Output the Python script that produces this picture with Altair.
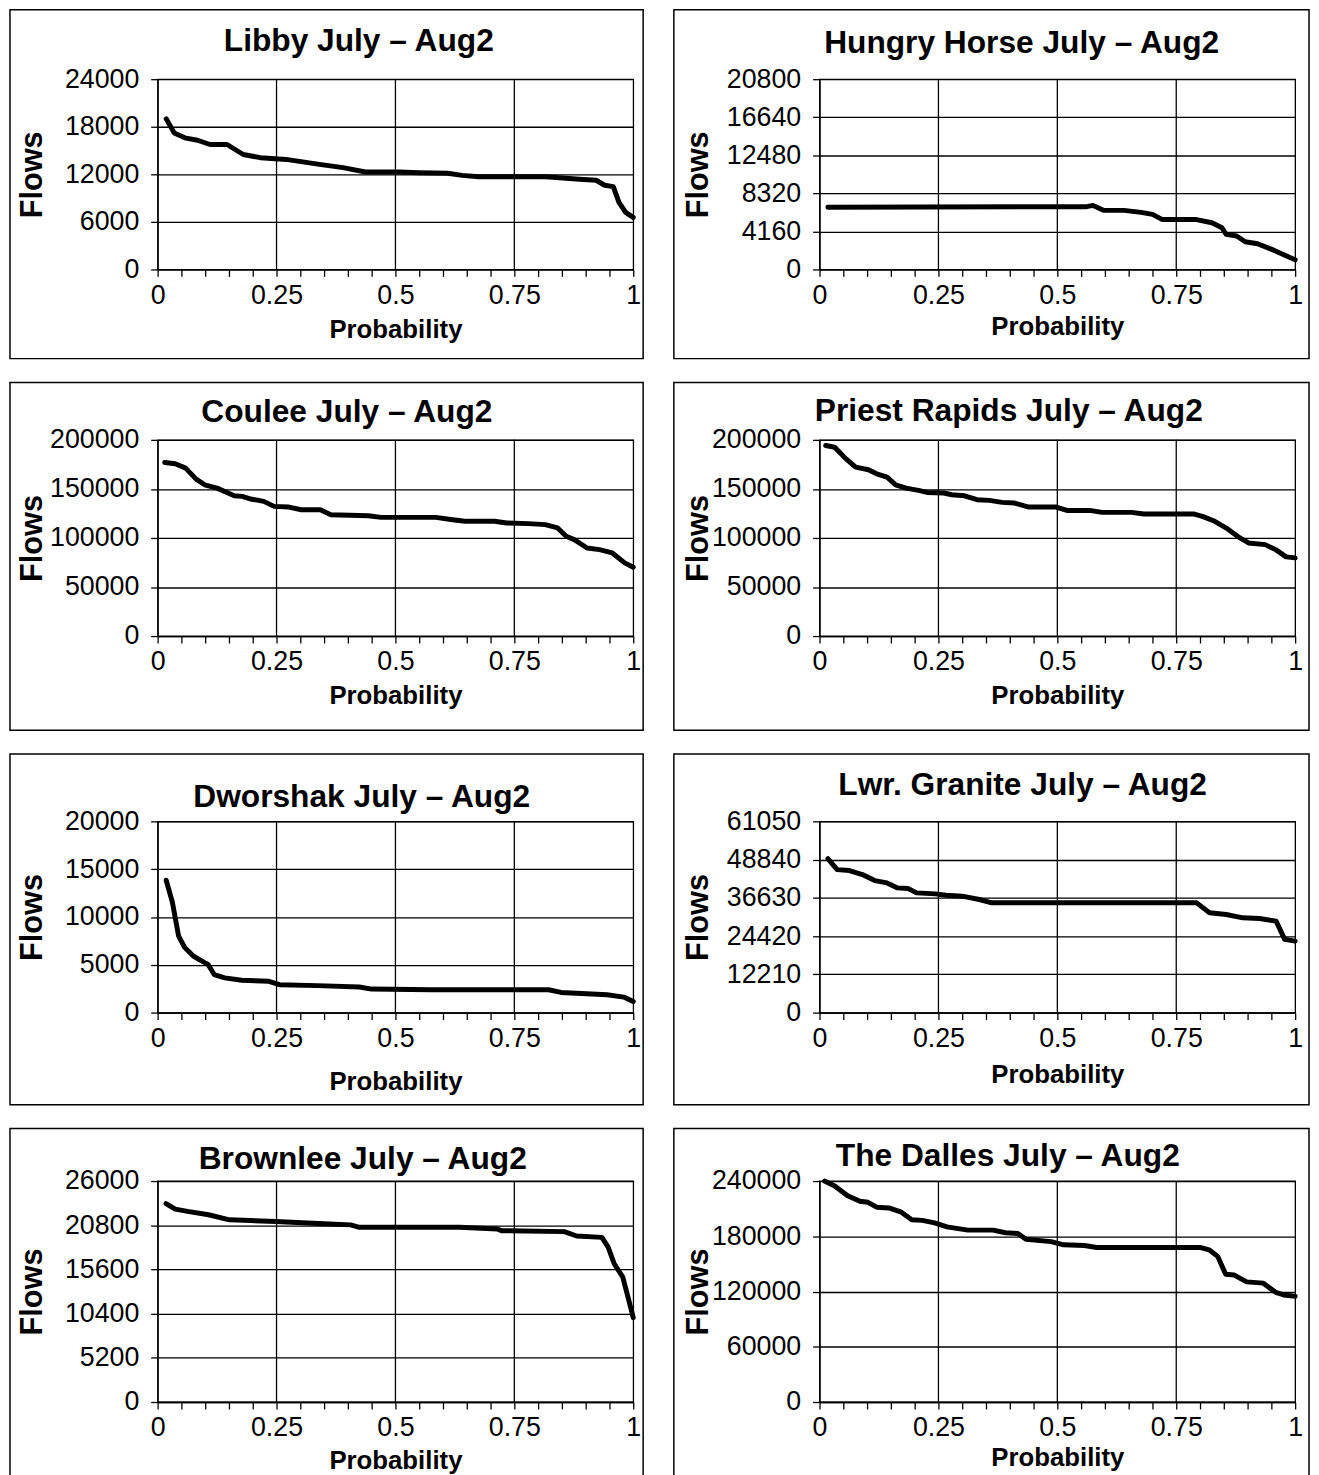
import altair as alt
import pandas as pd

# ---------------- data ----------------
titles = ["Libby July – Aug2", "Hungry Horse July – Aug2",
          "Coulee July – Aug2", "Priest Rapids July – Aug2",
          "Dworshak July – Aug2", "Lwr. Granite July – Aug2",
          "Brownlee July – Aug2", "The Dalles July – Aug2"]

libby_p = [0.018, 0.035, 0.057, 0.084, 0.11, 0.146, 0.18, 0.216, 0.27, 0.34, 0.39, 0.437,
           0.507, 0.55, 0.61, 0.64, 0.675, 0.816, 0.887, 0.922, 0.94, 0.958, 0.97, 0.984, 1.0]
libby_f = [19000, 17200, 16600, 16300, 15760, 15760, 14500, 14100, 13880, 13250, 12840, 12290,
           12290, 12200, 12125, 11870, 11700, 11700, 11370, 11250, 10620, 10450, 8450, 7190, 6560]
libby_y = [0, 6000, 12000, 18000, 24000]

hh_p = [0.0175, 0.562, 0.575, 0.597, 0.64, 0.676, 0.70, 0.72, 0.79, 0.825, 0.846, 0.855,
        0.877, 0.895, 0.921, 0.956, 0.982, 1.0]
hh_f = [6800, 6860, 7000, 6460, 6460, 6240, 6020, 5470, 5470, 5110, 4560, 3830,
        3650, 3030, 2810, 2080, 1460, 1050]
hh_y = [0, 4160, 8320, 12480, 16640, 20800]

coulee_p = [0.015, 0.037, 0.059, 0.081, 0.099, 0.125, 0.148, 0.161, 0.178, 0.196, 0.223, 0.245,
            0.276, 0.302, 0.342, 0.364, 0.443, 0.47, 0.585, 0.62, 0.646, 0.708, 0.734, 0.78,
            0.815, 0.841, 0.859, 0.876, 0.903, 0.929, 0.956, 0.982, 1.0]
coulee_f = [177000, 175600, 171200, 160000, 154200, 150800, 145800, 143050, 142400, 139700,
            137300, 132200, 131500, 128800, 128800, 123700, 122700, 121000, 121000, 118600,
            117000, 117000, 115250, 114600, 113600, 110200, 101700, 98300, 89800, 88100,
            84700, 74600, 70200]
coulee_y = [0, 50000, 100000, 150000, 200000]

priest_p = [0.013, 0.032, 0.054, 0.076, 0.103, 0.12, 0.142, 0.16, 0.182, 0.208, 0.226, 0.261,
            0.278, 0.305, 0.331, 0.357, 0.384, 0.41, 0.44, 0.498, 0.52, 0.568, 0.594, 0.656,
            0.682, 0.788, 0.805, 0.831, 0.858, 0.884, 0.902, 0.937, 0.959, 0.981, 1.0]
priest_f = [194200, 192500, 181400, 172200, 169500, 165400, 162000, 154200, 150800, 148500,
            146400, 145800, 144100, 143000, 139000, 138300, 136300, 135600, 131500, 131500,
            128100, 128100, 126100, 126100, 124400, 124400, 122000, 117000, 109200, 100000,
            94900, 93200, 88100, 80700, 79700]
priest_y = [0, 50000, 100000, 150000, 200000]

dwor_p = [0.018, 0.031, 0.044, 0.057, 0.075, 0.097, 0.106, 0.119, 0.141, 0.177, 0.234, 0.256,
          0.336, 0.424, 0.45, 0.574, 0.822, 0.848, 0.945, 0.98, 1.0]
dwor_f = [13840, 11550, 8030, 6800, 5920, 5280, 5035, 3980, 3630, 3380, 3270, 2920,
          2820, 2680, 2460, 2390, 2390, 2110, 1870, 1620, 1160]
dwor_y = [0, 5000, 10000, 15000, 20000]

lg_p = [0.0176, 0.037, 0.063, 0.09, 0.116, 0.142, 0.164, 0.186, 0.204, 0.244, 0.266, 0.3,
        0.336, 0.362, 0.793, 0.82, 0.855, 0.89, 0.925, 0.96, 0.978, 1.0]
lg_f = [49160, 45650, 45340, 44060, 42150, 41400, 39810, 39600, 38220, 37900, 37480, 37160,
        36100, 35040, 35040, 31850, 31320, 30260, 30050, 29200, 23360, 22830]
lg_y = [0, 12210, 24420, 36630, 48840, 61050]

brown_p = [0.0176, 0.037, 0.063, 0.107, 0.151, 0.195, 0.248, 0.327, 0.406, 0.424, 0.547,
           0.635, 0.714, 0.723, 0.855, 0.881, 0.934, 0.947, 0.96, 0.978, 0.991, 1.0]
brown_f = [23340, 22700, 22430, 22030, 21440, 21350, 21240, 21040, 20840, 20560, 20560,
           20560, 20360, 20160, 20050, 19530, 19370, 18260, 16270, 14690, 11910, 9920]
brown_y = [0, 5200, 10400, 15600, 20800, 26000]

dalles_p = [0.0105, 0.032, 0.059, 0.085, 0.102, 0.12, 0.146, 0.172, 0.194, 0.216, 0.242,
            0.268, 0.312, 0.365, 0.391, 0.417, 0.434, 0.487, 0.513, 0.557, 0.583, 0.802,
            0.819, 0.837, 0.854, 0.872, 0.898, 0.933, 0.959, 0.976, 1.0]
dalles_f = [240000, 234700, 224000, 218000, 216900, 211600, 210800, 206200, 198000, 197300,
            194500, 190200, 186700, 186700, 183800, 183100, 176700, 174200, 170700, 170000,
            167800, 167800, 165300, 158200, 138700, 137900, 130500, 129100, 119100, 116300,
            114800]
dalles_y = [0, 60000, 120000, 180000, 240000]

x_ticks = [0, 0.05, 0.1, 0.15, 0.2, 0.25, 0.3, 0.35, 0.4, 0.45, 0.5,
           0.55, 0.6, 0.65, 0.7, 0.75, 0.8, 0.85, 0.9, 0.95, 1]
x_labels = [0, 0.25, 0.5, 0.75, 1]
x_grid = [0.25, 0.5, 0.75]

series = [(libby_p, libby_f, libby_y), (hh_p, hh_f, hh_y),
          (coulee_p, coulee_f, coulee_y), (priest_p, priest_f, priest_y),
          (dwor_p, dwor_f, dwor_y), (lg_p, lg_f, lg_y),
          (brown_p, brown_f, brown_y), (dalles_p, dalles_f, dalles_y)]

# ---------------- layout ----------------
FONT = "Liberation Sans"
W = 480
cols = [dict(left=149, right=10, ytitle_x=-126), dict(left=147, right=14, ytitle_x=-122)]
rows = [dict(H=192, top=70, bottom=90), dict(H=198, top=58, bottom=95),
        dict(H=193, top=68, bottom=93), dict(H=223, top=53, bottom=85)]
title_cx = [203, 204, 191, 191, 206, 205, 207, 190]
title_dy = [28, 26, 18, 19, 14, 27, 12, 15]
xtitle_y = [69, 66, 68, 68, 78, 71, 67, 64]

label_expr = "indexof(" + str(x_labels) + ", datum.value) >= 0 ? datum.label : ''"


def panel(i):
    p, f, yv = series[i]
    c = cols[i % 2]
    r = rows[i // 2]
    H = r["H"]
    df = pd.DataFrame({"p": p, "flow": f})

    x_axis = alt.Axis(values=x_ticks, format=".2~f", labelExpr=label_expr,
                      grid=False, labelFlush=False, labelOverlap=False,
                      labelBaseline="alphabetic", labelPadding=27,
                      labelFont=FONT, labelFontSize=27, labelColor="black",
                      tickSize=7, tickColor="black", tickWidth=1.3,
                      domainColor="black", domainWidth=1.3,
                      title="Probability", titleFont=FONT, titleFontSize=26,
                      titleFontWeight="bold", titleColor="black",
                      titleBaseline="alphabetic", titleX=W / 2,
                      titleY=xtitle_y[i], titleAlign="center")
    x_scale = alt.Scale(domain=[0, 1], nice=False, zero=False)
    y_enc = alt.Y("flow:Q", scale=alt.Scale(domain=[0, yv[-1]], nice=False),
                  axis=alt.Axis(values=yv, format="d", grid=True, gridColor="black",
                                gridWidth=1.3, gridOpacity=1, labelFlush=False,
                                labelOverlap=False, labelPadding=12,
                                labelFont=FONT, labelFontSize=27, labelColor="black",
                                tickSize=7, tickColor="black", tickWidth=1.3,
                                domainColor="black", domainWidth=1.3,
                                title="Flows", titleFont=FONT, titleFontSize=31,
                                titleFontWeight="bold", titleColor="black",
                                titleAngle=270, titleBaseline="middle", titleAlign="center",
                                titleX=c["ytitle_x"], titleY=H / 2))

    line = alt.Chart(df).mark_line(color="black", strokeWidth=5,
                                   strokeJoin="round", strokeCap="round").encode(
        x=alt.X("p:Q", scale=x_scale, axis=x_axis), y=y_enc)
    grid = alt.Chart(pd.DataFrame({"p": x_grid})).mark_rule(
        color="black", strokeWidth=1.3).encode(x=alt.X("p:Q", scale=x_scale, axis=x_axis))
    frame = alt.Chart(pd.DataFrame({"k": [0]})).mark_rect(
        fill="white", fillOpacity=0, stroke="black", strokeWidth=1.5, clip=False).encode(
        x=alt.value(-c["left"]), x2=alt.value(W + c["right"]),
        y=alt.value(-r["top"]), y2=alt.value(H + r["bottom"]))
    ttl = alt.Chart(pd.DataFrame({"t": [titles[i]]})).mark_text(
        font=FONT, fontSize=32, fontWeight="bold", align="center",
        baseline="alphabetic", color="black").encode(
        text="t:N", x=alt.value(title_cx[i]), y=alt.value(-title_dy[i]))
    return alt.layer(line, grid, frame, ttl).properties(width=W, height=H)


chart = alt.vconcat(
    *[alt.hconcat(panel(2 * k), panel(2 * k + 1), spacing=27) for k in range(4)],
    spacing=20
).properties(padding={"top": -7, "left": 0, "right": 0, "bottom": 0},
             background="white").configure_view(
    stroke="black", strokeWidth=1.3
)

chart.save("out.html", embed_options={"renderer": "svg", "actions": False})
